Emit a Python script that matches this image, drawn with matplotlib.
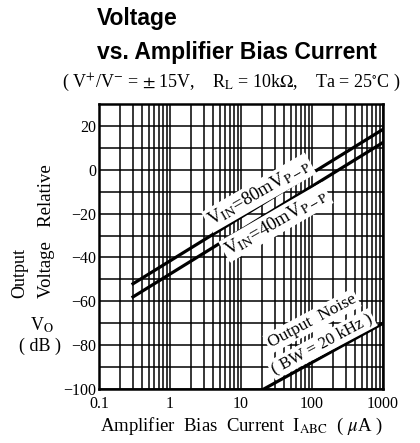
import numpy as np
import matplotlib
matplotlib.use("Agg")
import matplotlib.pyplot as plt
from matplotlib.ticker import LogLocator, FixedLocator, NullFormatter

plt.rcParams['font.family'] = ['Liberation Serif', 'DejaVu Serif']
plt.rcParams['mathtext.fontset'] = 'stix'

# data
vin80_i = [0.3, 1000]
vin80_db = [-52, 18.5]
vin40_i = [0.3, 1000]
vin40_db = [-58, 12.5]
noise_i = [21, 1000]
noise_db = [-100, -70]

xticks = [0.1, 1, 10, 100, 1000]
xtick_labels = ['0.1', '1', '10', '100', '1000']
yticks = [-100, -80, -60, -40, -20, 0, 20]
ytick_labels = ['\u2212100', '\u221280', '\u221260', '\u221240', '\u221220', '0', '20']

fig = plt.figure(figsize=(4.2, 4.43), dpi=100)
ax = fig.add_axes([0.236, 0.122, 0.676, 0.643])

ax.set_xscale('log')
ax.set_xlim(0.1, 1000)
ax.set_ylim(-100, 30)

ax.xaxis.set_major_locator(FixedLocator(xticks))
ax.xaxis.set_minor_locator(LogLocator(base=10, subs=np.arange(2, 10)))
ax.xaxis.set_minor_formatter(NullFormatter())
ax.set_xticks(xticks, xtick_labels)
ax.set_yticks(yticks, ytick_labels)
ax.yaxis.set_minor_locator(FixedLocator(np.arange(-90, 31, 20)))

ax.grid(True, which='both', color='black', lw=1.1)
ax.tick_params(which='both', length=0, labelsize=11.5)
ax.tick_params(axis='x', pad=5)
ax.tick_params(axis='y', pad=2)
for s in ax.spines.values():
    s.set_linewidth(1.8)

ax.plot(vin80_i, vin80_db, color='black', lw=2.3)
ax.plot(vin40_i, vin40_db, color='black', lw=2.3)
ax.plot(noise_i, noise_db, color='black', lw=2.3)

box = dict(facecolor='white', edgecolor='none', pad=1.5)
ax.text(17.8, -10.5, r'V$_{\mathrm{IN}}$=80mV$_{\mathrm{P-P}}$', rotation=30,
        ha='center', va='center', fontsize=13.5, bbox=box)
ax.text(31, -24, r'V$_{\mathrm{IN}}$=40mV$_{\mathrm{P-P}}$', rotation=30,
        ha='center', va='center', fontsize=13.5, bbox=box)
ax.text(100, -69, 'Output  Noise', rotation=28,
        ha='center', va='center', fontsize=12.5, bbox=box)
ax.text(137, -79.5, '( BW = 20 kHz )', rotation=28,
        ha='center', va='center', fontsize=12, bbox=box)

ax.set_xlabel(r'Amplifier  Bias  Current  I$_{\mathrm{ABC}}$  ( $\mu$A )', fontsize=13.5, labelpad=3)

# y label pieces
fig.text(0.048, 1 - 298 / 443, 'Output', rotation=90, ha='center', va='bottom', fontsize=13)
fig.text(0.11, 1 - 298 / 443, 'Voltage   Relative', rotation=90, ha='center', va='bottom', fontsize=13.5)
fig.text(0.1, 1 - 325 / 443, r'V$_{\mathrm{O}}$', ha='center', va='center', fontsize=13)
fig.text(0.095, 1 - 346 / 443, '( dB )', ha='center', va='center', fontsize=13)

fig.text(0.231, 1 - 18 / 443, 'Voltage', family='Liberation Sans', weight='bold',
         fontsize=16.5, ha='left', va='center')
fig.text(0.231, 1 - 52 / 443, 'vs. Amplifier Bias Current', family='Liberation Sans',
         weight='bold', fontsize=16.5, ha='left', va='center')
fig.text(0.148, 1 - 82 / 443,
         r'( V$^{+}$/V$^{-}$ = $\pm$ 15V,    R$_{\mathrm{L}}$ = 10k$\Omega$,    Ta = 25$^{\circ}$C )',
         ha='left', va='center', fontsize=13)

fig.savefig('out.png', dpi=100)
